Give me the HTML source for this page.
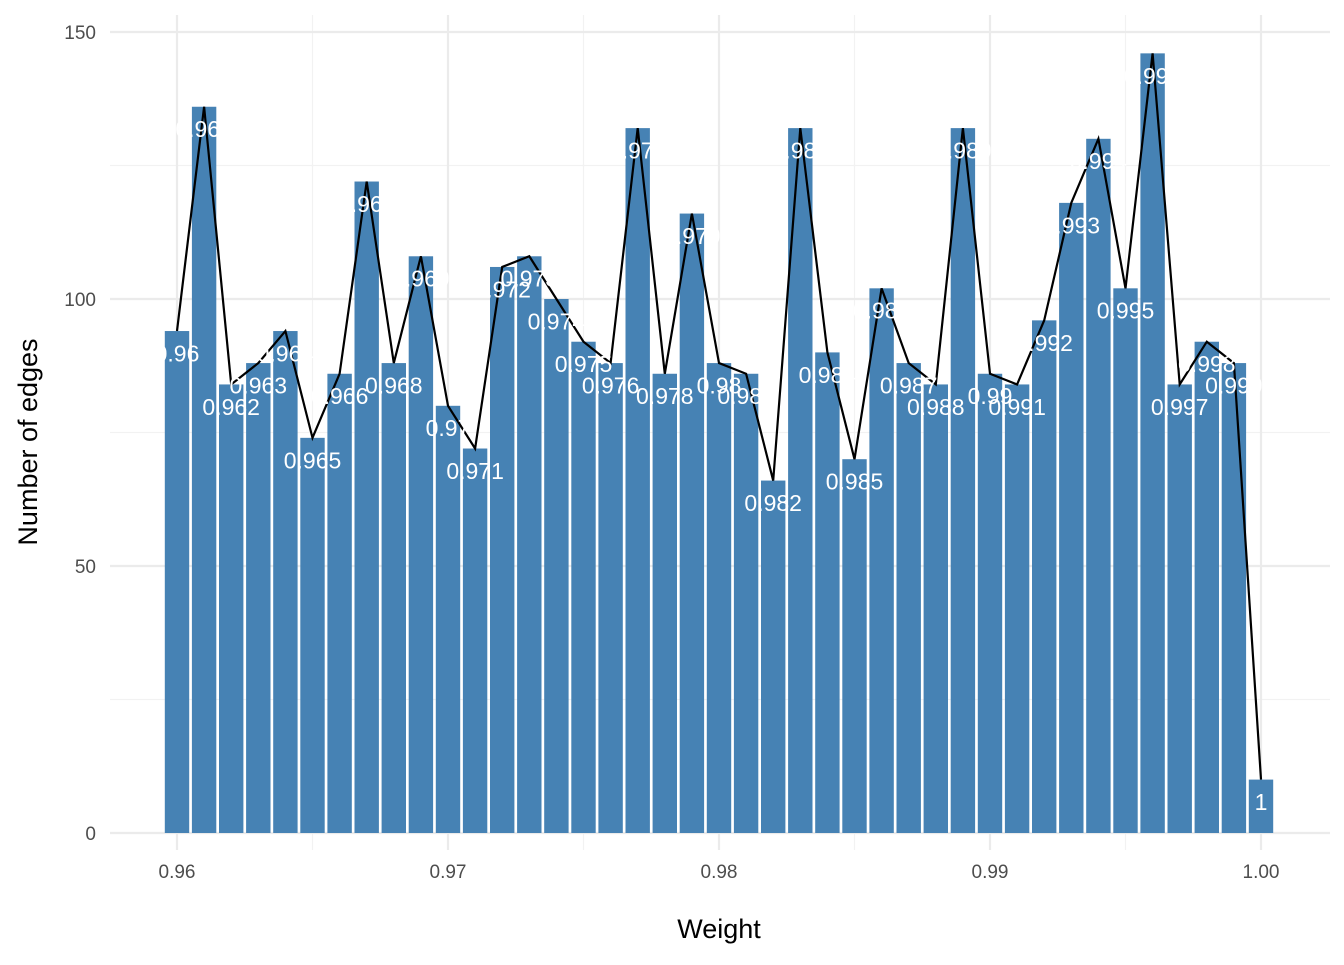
<!DOCTYPE html>
<html><head><meta charset="utf-8"><style>
body{margin:0;background:#fff;font-family:"Liberation Sans","DejaVu Sans",sans-serif}
</style></head><body>
<svg id="chart" width="1344" height="960" xmlns="http://www.w3.org/2000/svg"></svg>
<script>
const categories=[0.960,0.961,0.962,0.963,0.964,0.965,0.966,0.967,0.968,0.969,0.970,0.971,0.972,0.973,0.974,0.975,0.976,0.977,0.978,0.979,0.980,0.981,0.982,0.983,0.984,0.985,0.986,0.987,0.988,0.989,0.990,0.991,0.992,0.993,0.994,0.995,0.996,0.997,0.998,0.999,1.000];
const counts=[94,136,84,88,94,74,86,122,88,108,80,72,106,108,100,92,88,132,86,116,88,86,66,132,90,70,102,88,84,132,86,84,96,118,130,102,146,84,92,88,10];
const xTicks=[0.96,0.97,0.98,0.99,1.00];
const xTickLabels=["0.96","0.97","0.98","0.99","1.00"];
const yTicks=[0,50,100,150];
const svg=document.getElementById('chart');
const NS='http://www.w3.org/2000/svg';
const x=v=>177+(v-0.96)*27100;
const y=v=>833-v*5.34;
function mk(tag,attrs,parent){const e=document.createElementNS(NS,tag);for(const k in attrs)e.setAttribute(k,attrs[k]);(parent||svg).appendChild(e);return e;}
const grid=mk('g',{});


[25,75,125].forEach(v=>mk('line',{x1:110,x2:1330,y1:y(v),y2:y(v),stroke:'#f2f2f2','stroke-width':1.2},grid));
[0.965,0.975,0.985,0.995].forEach(v=>mk('line',{x1:x(v),x2:x(v),y1:15,y2:850,stroke:'#f2f2f2','stroke-width':1.2},grid));
yTicks.forEach(v=>mk('line',{x1:110,x2:1330,y1:y(v),y2:y(v),stroke:'#ebebeb','stroke-width':2.2},grid));
xTicks.forEach(v=>mk('line',{x1:x(v),x2:x(v),y1:15,y2:850,stroke:'#ebebeb','stroke-width':2.2},grid));
const bars=mk('g',{});


categories.forEach((c,i)=>{
 const r=mk('rect',{x:x(c)-12.2,y:y(counts[i]),width:24.4,height:y(0)-y(counts[i]),fill:'#4682b4'},bars);
 
 
});
const ln=mk('polyline',{points:categories.map((c,i)=>x(c)+','+y(counts[i])).join(' '),fill:'none',stroke:'#000','stroke-width':2.2});


const labs=mk('g',{});


categories.forEach((c,i)=>{
 const t=mk('text',{x:x(c),y:y(counts[i]-4.2)+8,'text-anchor':'middle','font-size':23,fill:'#fff'},labs);
 
 
 t.textContent=String(parseFloat(c.toFixed(3)));
});
xTicks.forEach((v,i)=>{
 const t=mk('text',{x:x(v),y:878,'text-anchor':'middle','font-size':19,fill:'#4d4d4d'});
 
 
 t.textContent=xTickLabels[i];
});
yTicks.forEach(v=>{
 const t=mk('text',{x:96,y:y(v)+7,'text-anchor':'end','font-size':19,fill:'#4d4d4d'});
 
 
 t.textContent=v;
});
const xt=mk('text',{x:719,y:938,'text-anchor':'middle','font-size':27,fill:'#000'});


xt.textContent='Weight';
const yt=mk('text',{x:0,y:0,transform:'translate(37,442) rotate(-90)','text-anchor':'middle','font-size':27,fill:'#000'});


yt.textContent='Number of edges';
</script>
</body></html>
